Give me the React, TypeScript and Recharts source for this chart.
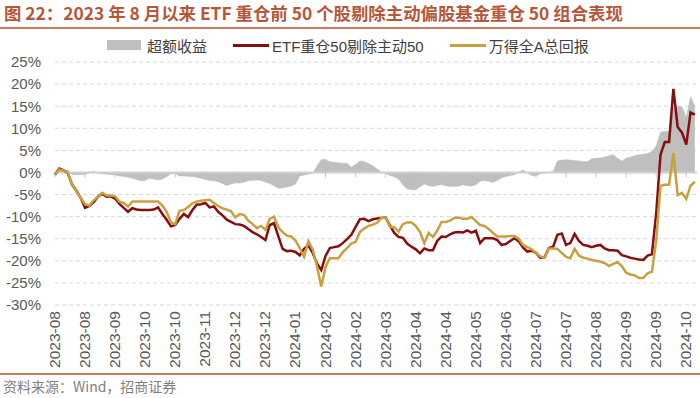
import {
  ComposedChart,
  Area,
  Line,
  XAxis,
  YAxis,
  CartesianGrid,
  ReferenceLine,
} from "recharts";

// x-axis labels, one every 7 points
const tickLabels = [
  "2023-08", "2023-08", "2023-09", "2023-10", "2023-10", "2023-11",
  "2023-12", "2023-12", "2024-01", "2024-02", "2024-02", "2024-03",
  "2024-04", "2024-04", "2024-05", "2024-06", "2024-07", "2024-07",
  "2024-08", "2024-09", "2024-09", "2024-10",
];
const tickIdx = [
  0, 7, 14, 21, 28, 35, 42, 49, 56, 63, 70, 77, 84, 91, 98, 105, 112, 119,
  126, 133, 140, 147,
];
const yTicks = [-30, -25, -20, -15, -10, -5, 0, 5, 10, 15, 20, 25];

// ETF重仓50剔除主动50 (%)
const etf50 = [
  -0.5, 0.9, 0.5, -0.2, -2.8, -4.2, -5.8, -8.0, -7.6, -6.7,
  -5.5, -4.8, -5.5, -5.4, -5.9, -7.1, -8.0, -8.9, -8.1, -8.4,
  -8.5, -8.5, -8.5, -8.4, -7.9, -9.4, -10.7, -12.2, -11.9, -10.5,
  -9.4, -10.1, -8.5, -7.3, -7.2, -6.9, -7.9, -7.7, -8.9, -9.7,
  -10.7, -11.2, -11.7, -11.8, -12.1, -12.8, -13.5, -14.0, -14.6, -15.3,
  -11.9, -11.5, -14.4, -17.3, -17.8, -17.7, -18.0, -18.8, -17.3, -16.5,
  -18.2, -20.6, -22.1, -18.9, -17.1, -16.9, -16.7, -16.0, -15.1, -14.1,
  -12.3, -10.6, -10.5, -11.0, -10.6, -10.4, -10.3, -10.2, -12.0, -13.7,
  -14.6, -14.8, -16.1, -16.8, -17.4, -18.3, -17.2, -17.6, -17.6, -15.5,
  -14.5, -14.6, -14.0, -13.6, -13.5, -13.6, -13.1, -13.6, -13.2, -16.0,
  -14.9, -14.9, -14.9, -15.3, -16.4, -16.2, -15.5, -14.9, -15.6, -17.0,
  -17.9, -17.7, -18.2, -19.3, -19.2, -17.1, -16.8, -14.1, -13.8, -16.4,
  -16.0, -13.9, -15.5, -16.4, -16.6, -16.9, -16.6, -16.4, -17.2, -17.6,
  -17.6, -17.7, -18.7, -19.0, -19.3, -19.5, -19.7, -19.8, -18.8, -18.5,
  -9.2, 4.0, 6.9, 6.9, 18.9, 10.3, 9.0, 6.3, 13.6, 13.1,
];

// 万得全A总回报 (%)
const windA = [
  -0.5, 0.7, 0.4, -0.1, -2.8, -4.3, -5.8, -7.2, -7.5, -6.3,
  -5.5, -4.6, -5.2, -5.2, -5.4, -6.6, -6.9, -7.7, -6.6, -6.6,
  -6.6, -6.6, -6.6, -6.6, -6.6, -7.5, -8.9, -11.3, -11.7, -8.7,
  -8.5, -7.8, -7.0, -6.6, -6.4, -6.3, -6.2, -6.9, -7.6, -8.1,
  -8.4, -8.8, -10.2, -9.4, -9.6, -10.9, -11.7, -12.6, -12.1, -13.0,
  -10.5, -10.0, -12.4, -13.5, -14.3, -14.5, -15.4, -17.1, -19.1, -15.6,
  -17.4, -21.2, -25.8, -21.4, -19.4, -19.4, -19.4, -18.1, -17.1, -16.1,
  -15.7, -13.5, -12.7, -12.1, -11.8, -11.4, -10.3, -10.2, -12.3, -12.4,
  -13.4, -11.7, -11.3, -11.3, -12.1, -13.5, -16.0, -13.7, -14.6, -13.2,
  -11.2, -11.2, -10.9, -10.3, -10.2, -10.5, -10.5, -10.1, -11.0, -11.9,
  -12.1, -12.8, -13.7, -14.5, -14.5, -14.5, -14.4, -14.4, -15.0, -16.4,
  -16.9, -17.4, -18.2, -19.0, -19.3, -17.2, -17.2, -17.3, -18.2, -19.1,
  -19.4, -17.3, -18.8, -19.3, -19.5, -19.8, -20.0, -20.2, -20.5, -21.2,
  -20.7, -20.3, -21.2, -22.7, -23.1, -23.3, -23.9, -23.9, -22.8, -22.5,
  -15.5, -3.0, -2.8, -2.8, 4.4, -5.1, -4.6, -6.0, -3.0, -2.1,
];

// 超额收益 (%)
const excess = [
  0, 0.2, 0.4, 0.6, -0.5, -0.5, -0.5, -0.5, -0.1, 0.3,
  -0.2, -0.3, -0.4, -0.5, -0.6, -0.8, -0.9, -1.1, -1.3, -1.6,
  -1.9, -1.8, -1.3, -1.5, -1.7, -1.5, -1.0, -0.3, -0.3, -0.8,
  -0.8, -0.9, -0.9, -1.1, -1.3, -1.6, -1.8, -1.9, -2.1, -2.5,
  -3.0, -2.6, -2.4, -2.4, -2.2, -1.9, -1.8, -1.7, -1.8, -2.2,
  -2.5, -3.0, -3.6, -3.5, -3.3, -3.1, -2.6, -0.8, -0.6, -0.4,
  -0.1, 1.4, 2.9, 3.0, 2.4, 2.3, 2.2, 2.1, 2.1, 1.2,
  1.8, 2.6, 2.5, 2.0, 1.5, 0.8, 0.1, -0.3, -0.7, -1.0,
  -1.5, -2.8, -3.7, -3.9, -3.9, -3.3, -2.6, -3.0, -3.2, -2.9,
  -2.8, -3.0, -3.2, -3.2, -3.1, -2.8, -3.0, -3.1, -2.8, -2.0,
  -1.8, -2.0, -2.3, -1.8, -1.2, -0.9, -0.7, -0.5, 0.1, 0.6,
  -0.2, -0.7, -0.8, -0.3, -0.2, 0, 0.3, 2.6, 2.8, 2.9,
  2.8, 2.7, 2.6, 2.5, 2.5, 3.1, 3.2, 3.3, 3.5, 3.8,
  4.0, 3.2, 2.6, 3.2, 3.5, 3.8, 4.0, 4.1, 4.3, 4.7,
  6.0, 9.1, 9.3, 9.3, 14.5, 15.0, 14.8, 12.5, 17.2, 15.0,
];

const data = etf50.map((v, i) => ({
  idx: i,
  etf50: v,
  windA: windA[i],
  excess: excess[i],
}));

const RED = "#860E0E";
const GOLD = "#C9A040";
const GRAY = "#BFBFBF";
const BROWN = "#B5573A";
const AXIS_TEXT = "#595959";
const FONT = '"Liberation Sans", Arial, "Noto Sans CJK SC", sans-serif';

function DateTick(props: any) {
  const { x, y, payload } = props;
  const pos = tickIdx.indexOf(payload.value);
  return (
    <g transform={`translate(${x},${y})`}>
      <text
        x={0}
        y={0}
        dy={5}
        textAnchor="end"
        transform="rotate(-90)"
        fill={AXIS_TEXT}
        fontSize={15.5}
        fontFamily={FONT}
      >
        {tickLabels[pos] ?? ""}
      </text>
    </g>
  );
}

function LegendItem({ kind, color, label }: { kind: "box" | "line"; color: string; label: string }) {
  return (
    <div style={{ display: "flex", alignItems: "center", marginRight: 26 }}>
      {kind === "box" ? (
        <div style={{ width: 34, height: 10, background: color, marginRight: 6 }} />
      ) : (
        <div style={{ width: 36, height: 3, background: color, marginRight: 3 }} />
      )}
      <span style={{ fontSize: 15, color: "#404040", fontFamily: FONT, whiteSpace: "nowrap" }}>
        {label}
      </span>
    </div>
  );
}

export default function App() {
  return (
    <div
      style={{
        position: "absolute",
        left: 0,
        top: 0,
        width: 700,
        height: 398,
        background: "#fff",
        overflow: "hidden",
        fontFamily: FONT,
      }}
    >
      <div
        style={{
          position: "absolute",
          left: 4,
          top: 3,
          fontSize: 17.4,
          fontWeight: 700,
          color: BROWN,
          whiteSpace: "nowrap",
          fontFamily: '"Noto Sans CJK SC", "Liberation Sans", sans-serif',
          lineHeight: "20px",
        }}
      >
        图 22：2023 年 8 月以来 ETF 重仓前 50 个股剔除主动偏股基金重仓 50 组合表现
      </div>
      <div
        style={{
          position: "absolute",
          left: 0,
          top: 27,
          width: 700,
          height: 2,
          background: "#C77B58",
        }}
      />
      <div
        style={{
          position: "absolute",
          left: 107,
          top: 36,
          display: "flex",
          alignItems: "center",
          height: 18,
        }}
      >
        <LegendItem kind="box" color={GRAY} label="超额收益" />
        <LegendItem kind="line" color={RED} label="ETF重仓50剔除主动50" />
        <LegendItem kind="line" color={GOLD} label="万得全A总回报" />
      </div>

      <div style={{ position: "absolute", left: 0, top: 0 }}>
        <ComposedChart
          width={700}
          height={398}
          data={data}
          margin={{ top: 62, right: 3, bottom: 33, left: 0 }}
        >
          <CartesianGrid
            horizontal
            vertical={false}
            stroke="#D9D9D9"
            strokeDasharray="4 3"
          />
          <XAxis
            dataKey="idx"
            type="number"
            domain={[0, 149.5]}
            ticks={tickIdx}
            interval={0}
            axisLine={false}
            tickLine={false}
            tickSize={0}
            tickMargin={6}
            height={60}
            tick={<DateTick />}
          />
          <YAxis
            type="number"
            domain={[-30, 25]}
            ticks={yTicks}
            interval={0}
            width={55}
            axisLine={false}
            tickLine={false}
            tickSize={0}
            tickMargin={14}
            tickFormatter={(v: number) => `${v}%`}
            tick={{ fontSize: 15, fill: AXIS_TEXT, fontFamily: FONT }}
          />
          <Area
            type="linear"
            dataKey="excess"
            fill={GRAY}
            fillOpacity={1}
            stroke={GRAY}
            strokeWidth={0.5}
            isAnimationActive={false}
          />
          <ReferenceLine y={0} stroke="#D0D0D0" strokeWidth={2} />
          {tickIdx.map((t) => (
            <ReferenceLine
              key={t}
              segment={[
                { x: t, y: 0 },
                { x: t, y: -1.1 },
              ]}
              stroke="#C8C8C8"
              strokeWidth={1}
            />
          ))}
          <Line
            type="linear"
            dataKey="etf50"
            stroke={RED}
            strokeWidth={2.5}
            dot={false}
            isAnimationActive={false}
          />
          <Line
            type="linear"
            dataKey="windA"
            stroke={GOLD}
            strokeWidth={2.5}
            dot={false}
            isAnimationActive={false}
          />
        </ComposedChart>
      </div>

      <div
        style={{
          position: "absolute",
          left: 0,
          top: 373,
          width: 700,
          height: 2,
          background: "#C77B58",
        }}
      />
      <div
        style={{
          position: "absolute",
          left: 3,
          top: 377,
          fontSize: 14,
          color: "#7F7F7F",
          fontFamily: '"Noto Sans CJK SC", "Liberation Sans", sans-serif',
          whiteSpace: "nowrap",
          lineHeight: "18px",
        }}
      >
        资料来源：Wind，招商证券
      </div>
    </div>
  );
}
